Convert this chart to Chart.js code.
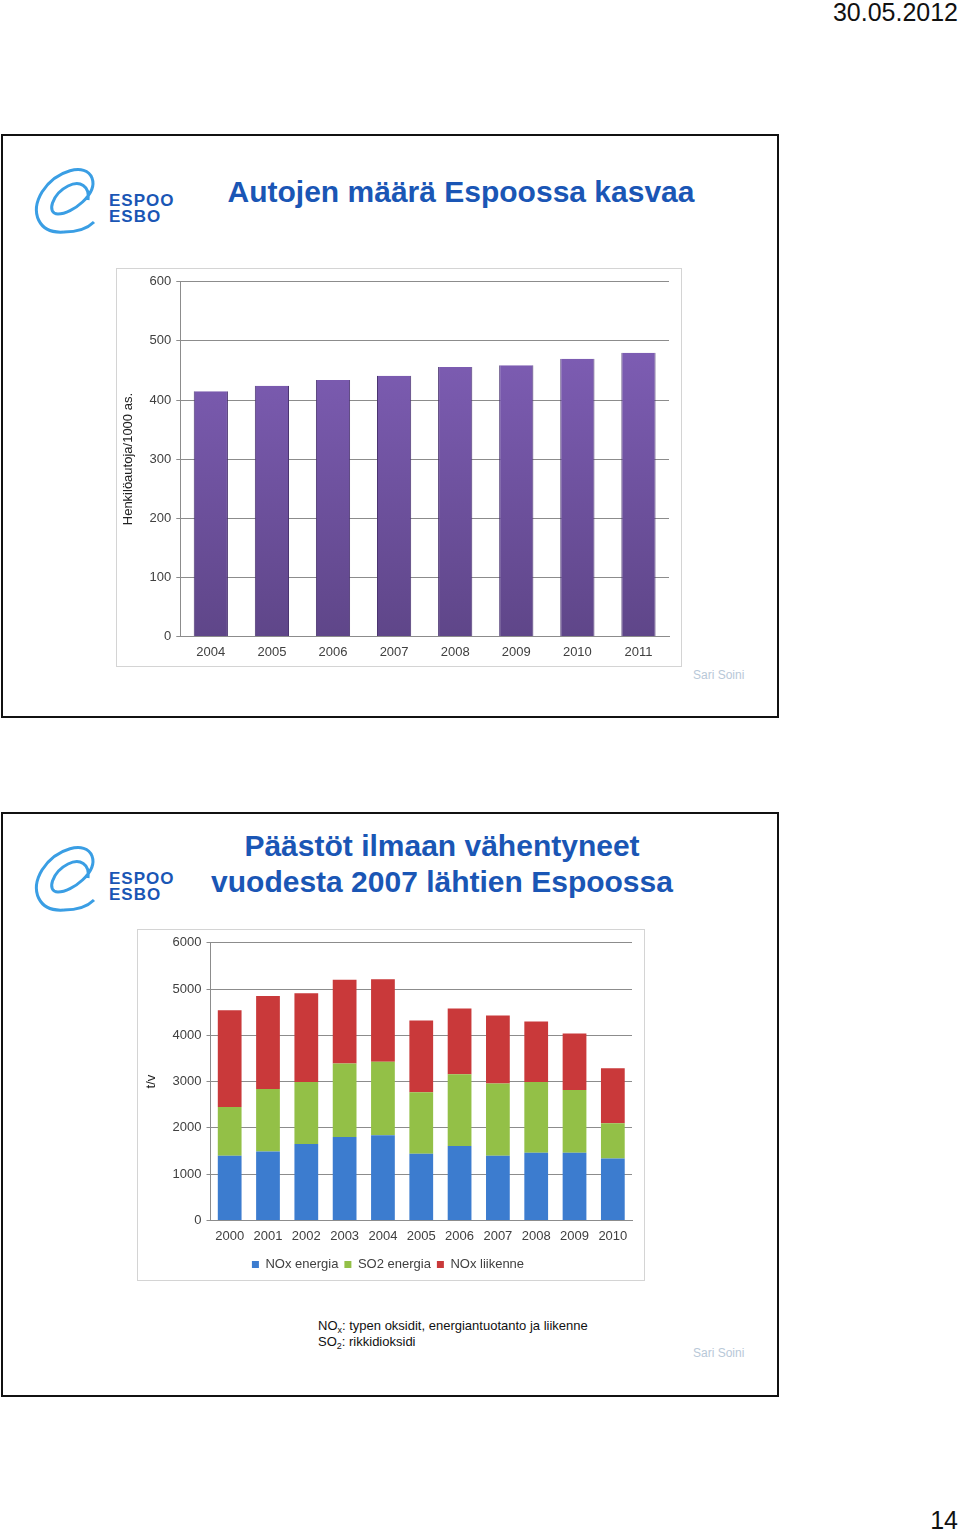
<!DOCTYPE html>
<html>
<head>
<meta charset="utf-8">
<script src="https://cdn.jsdelivr.net/npm/chart.js@4.4.1/dist/chart.umd.min.js"></script>
<style>
  html, body { margin:0; padding:0; background:#fff; }
  body { width:960px; height:1534px; position:relative; overflow:hidden; font-family:"Liberation Sans", Arial, sans-serif; }
  .abs { position:absolute; }
  .date { right:2px; top:-2px; font-size:25px; color:#111; }
  .page { right:2px; top:1506px; font-size:25px; color:#111; }
  .slide { left:1px; width:774px; border:2px solid #111; background:#fff; }
  .title { color:#1a56b5; font-weight:bold; font-size:30px; text-align:center; line-height:36px; }
  .box { border:1px solid #d4d4d4; background:#fff; }
  .box canvas { position:absolute; left:0; top:0; }
  .author { font-size:12px; color:#b8c8d8; }
  .note { font-size:13px; color:#111; line-height:16px; }
  .note sub { font-size:9px; vertical-align:-3px; line-height:0; }
</style>
</head>
<body>
<script>
// Chart 1: cars per 1000 inhabitants
const carYears = ['2004','2005','2006','2007','2008','2009','2010','2011'];
const carsPer1000 = [415, 424, 434, 441, 456, 459, 470, 480];
const carTicks = [0, 100, 200, 300, 400, 500, 600];

// Chart 2: emissions t/v
const emisYears = ['2000','2001','2002','2003','2004','2005','2006','2007','2008','2009','2010'];
const noxEnergia = [1400, 1490, 1650, 1800, 1840, 1440, 1610, 1400, 1460, 1460, 1340];
const so2Energia = [1050, 1350, 1340, 1590, 1590, 1330, 1550, 1560, 1530, 1360, 760];
const noxLiikenne = [2090, 2010, 1920, 1810, 1780, 1550, 1420, 1470, 1310, 1220, 1190];
const emisTicks = [0, 1000, 2000, 3000, 4000, 5000, 6000];
</script>

<div class="abs date">30.05.2012</div>

<!-- slide 1 -->
<div class="abs slide" style="top:134px;height:580px;"></div>
<svg class="abs" style="left:28px;top:160px" width="150" height="80" viewBox="0 0 150 80">
  <g fill="none" stroke="#3a9ee4" stroke-width="3">
    <path d="M36 72 C10 74 2 52 14 32 C28 10 58 2 64 18 C70 34 44 54 30 54 C18 54 24 34 40 26 C52 20 62 26 60 40"/>
    <path d="M36 72 C50 72 60 68 66 62"/>
  </g>
  <text x="81" y="46" fill="#1a56b5" font-family="Liberation Sans, Arial" font-weight="bold" font-size="17" letter-spacing="1">ESPOO</text>
  <text x="81" y="62" fill="#1a56b5" font-family="Liberation Sans, Arial" font-weight="bold" font-size="17" letter-spacing="1">ESBO</text>
</svg>
<div class="abs title" style="left:200px;width:522px;top:174px;">Autojen määrä Espoossa kasvaa</div>
<div class="abs box" style="left:116px;top:268px;width:564px;height:397px;">
  <canvas id="c1" width="564" height="399"></canvas>
</div>
<div class="abs author" style="left:693px;top:668px;">Sari Soini</div>

<!-- slide 2 -->
<div class="abs slide" style="top:812px;height:581px;"></div>
<svg class="abs" style="left:28px;top:838px" width="150" height="80" viewBox="0 0 150 80">
  <g fill="none" stroke="#3a9ee4" stroke-width="3">
    <path d="M36 72 C10 74 2 52 14 32 C28 10 58 2 64 18 C70 34 44 54 30 54 C18 54 24 34 40 26 C52 20 62 26 60 40"/>
    <path d="M36 72 C50 72 60 68 66 62"/>
  </g>
  <text x="81" y="46" fill="#1a56b5" font-family="Liberation Sans, Arial" font-weight="bold" font-size="17" letter-spacing="1">ESPOO</text>
  <text x="81" y="62" fill="#1a56b5" font-family="Liberation Sans, Arial" font-weight="bold" font-size="17" letter-spacing="1">ESBO</text>
</svg>
<div class="abs title" style="left:180px;width:524px;top:828px;">Päästöt ilmaan vähentyneet<br>vuodesta 2007 lähtien Espoossa</div>
<div class="abs box" style="left:137px;top:929px;width:506px;height:350px;">
  <canvas id="c2" width="506" height="357"></canvas>
</div>
<div class="abs note" style="left:318px;top:1318px;">NO<sub>x</sub>: typen oksidit, energiantuotanto ja liikenne<br>SO<sub>2</sub>: rikkidioksidi</div>
<div class="abs author" style="left:693px;top:1346px;">Sari Soini</div>

<div class="abs page">14</div>

<script>
(function(){
    Chart.defaults.font.family = '"Liberation Sans", Arial, sans-serif';
    Chart.defaults.font.size = 13;
    Chart.defaults.color = '#404040';
    Chart.defaults.animation = false;

    function vgrad(top, bottom){
        return function(ctx){
            const a = ctx.chart.chartArea;
            if (!a) return bottom;
            const g = ctx.chart.ctx.createLinearGradient(0, a.top, 0, a.bottom);
            g.addColorStop(0, top); g.addColorStop(1, bottom);
            return g;
        };
    }

    function valueAxis(ticks, title, padLeft){
        return {
            min: ticks[0], max: ticks[ticks.length-1],
            afterBuildTicks: (ax)=>{ ax.ticks = ticks.map(v=>({value:v})); },
            ticks: { padding: 5, color:'#404040', callback:(v)=>String(v) },
            grid: { color:'#8c8c8c', lineWidth:1, tickLength:4 },
            border: { color:'#8c8c8c' },
            title: { display:true, text:title, color:'#222', font:{size:13}, padding:{top:0,bottom:padLeft} }
        };
    }

    new Chart(document.getElementById('c1'), {
        type: 'bar',
        data: {
            labels: carYears,
            datasets: [{
                label: 'Henkilöautoja/1000 as.',
                data: carsPer1000,
                backgroundColor: vgrad('#8462bd', '#5f4689'),
                borderColor: '#4a3470',
                borderWidth: {left:1, right:1, top:0, bottom:0},
                categoryPercentage: 1,
                barPercentage: 0.56
            }]
        },
        options: {
            responsive: false,
            layout: { padding: {top:6, right:12, bottom:0, left:4} },
            plugins: { legend:{display:false}, tooltip:{enabled:false} },
            scales: {
                x: { grid:{display:false, drawTicks:false}, border:{color:'#8c8c8c'}, ticks:{padding:8, color:'#404040'} },
                y: valueAxis(carTicks, 'Henkilöautoja/1000 as.', 8)
            }
        }
    });

    const stackCommon = { categoryPercentage:1, barPercentage:0.62, stack:'s', borderWidth:0 };
    new Chart(document.getElementById('c2'), {
        type: 'bar',
        data: {
            labels: emisYears,
            datasets: [
                Object.assign({ label:'NOx energia', data:noxEnergia, backgroundColor:'#3c7ccf' }, stackCommon),
                Object.assign({ label:'SO2 energia', data:so2Energia, backgroundColor:'#93c047' }, stackCommon),
                Object.assign({ label:'NOx liikenne', data:noxLiikenne, backgroundColor:'#c9393a' }, stackCommon)
            ]
        },
        options: {
            responsive: false,
            layout: { padding: {top:6, right:12, bottom:6, left:6} },
            plugins: {
                tooltip:{enabled:false},
                legend: {
                    position:'bottom',
                    labels: { boxWidth:7, boxHeight:7, padding:6, color:'#404040', font:{size:13} }
                }
            },
            scales: {
                x: { stacked:true, grid:{display:false, drawTicks:false}, border:{color:'#8c8c8c'}, ticks:{padding:8, color:'#404040'} },
                y: Object.assign(valueAxis(emisTicks, 't/v', 8), { stacked:true })
            }
        }
    });
})();
</script>
</body>
</html>
